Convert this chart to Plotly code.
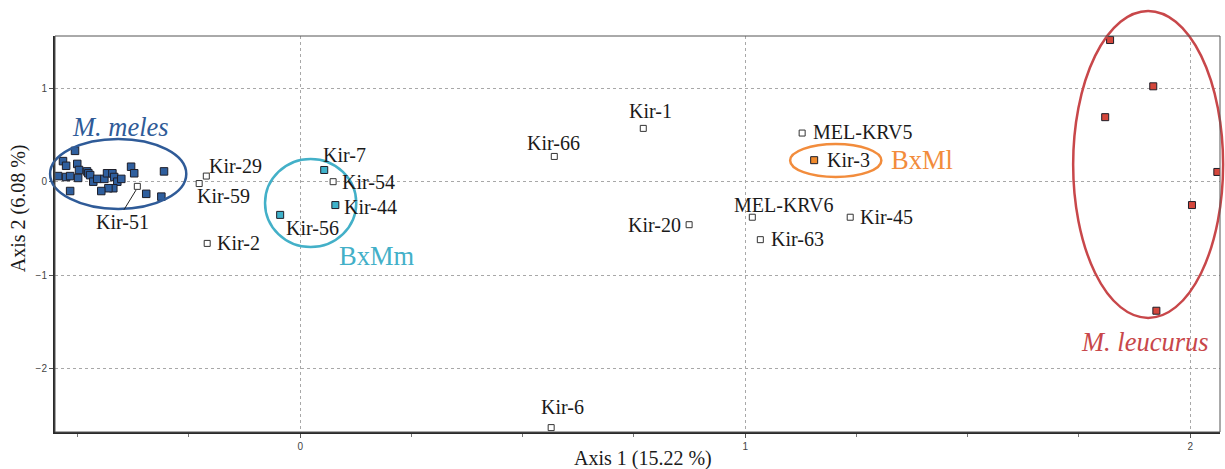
import plotly.graph_objects as go

# ---------------- data ----------------
X_RANGE = [-0.551, 2.067]
Y_RANGE = [-2.677, 1.558]
X_TICKS = [0, 1, 2]
Y_TICKS = [-2, -1, 0, 1]

meles_x = [-0.506, -0.533, -0.526, -0.501, -0.497, -0.544, -0.526, -0.517, -0.499,
           -0.479, -0.476, -0.472, -0.465, -0.456, -0.440, -0.434, -0.422, -0.418,
           -0.411, -0.402, -0.420, -0.431, -0.447, -0.517, -0.380, -0.373, -0.346,
           -0.312, -0.306]
meles_y = [0.33, 0.22, 0.17, 0.19, 0.125, 0.06, 0.05, 0.06, 0.04,
           0.11, 0.09, 0.07, 0.00, 0.03, 0.03, 0.09, 0.09, 0.05,
           0.00, 0.03, -0.07, -0.07, -0.10, -0.10, 0.16, 0.09, -0.13,
           -0.16, 0.11]

bxmm_names = ["Kir-7", "Kir-44", "Kir-56"]
bxmm_x = [0.054, 0.079, -0.045]
bxmm_y = [0.125, -0.25, -0.355]

bxml_names = ["Kir-3"]
bxml_x = [1.155]
bxml_y = [0.23]

leucurus_x = [1.820, 1.917, 1.809, 2.061, 2.004, 1.924]
leucurus_y = [1.515, 1.02, 0.69, 0.104, -0.25, -1.38]

open_names = ["Kir-51", "Kir-29", "Kir-59", "Kir-2", "Kir-54", "Kir-1", "Kir-66",
              "MEL-KRV5", "Kir-20", "MEL-KRV6", "Kir-45", "Kir-63", "Kir-6"]
open_x = [-0.366, -0.211, -0.227, -0.209, 0.074, 0.771, 0.571,
          1.128, 0.874, 1.016, 1.236, 1.034, 0.564]
open_y = [-0.05, 0.06, -0.02, -0.66, 0.00, 0.57, 0.27,
          0.52, -0.46, -0.38, -0.38, -0.62, -2.63]

# group ellipses: (x0, x1, y0, y1) in data units
ellipses = {
    "meles": (-0.562, -0.256, -0.292, 0.457),
    "bxmm": (-0.079, 0.126, -0.698, 0.243),
    "bxml": (1.101, 1.306, 0.050, 0.403),
    "leucurus": (1.737, 2.074, -1.457, 1.826),
}
group_labels = [
    ("<i>M. meles</i>", -0.404, 0.585, "meles"),
    ("BxMm", 0.171, -0.795, "bxmm"),
    ("BxMl", 1.398, 0.232, "bxml"),
    ("<i>M. leucurus</i>", 1.899, -1.714, "leucurus"),
]

# ---------------- styles ----------------
COL = {
    "meles": "#2f5b98",
    "bxmm": "#43b0c8",
    "bxml": "#f28c3c",
    "leucurus": "#c8474a",
}
FILL = {
    "meles": "#2f5f9e",
    "bxmm": "#3fb2cb",
    "bxml": "#f08a2c",
    "leucurus": "#d4473c",
}
EDGE = "#1e1e28"
SERIF = "Liberation Serif, Times New Roman, serif"

# label placement: name -> (xanchor, xshift px, yshift px)
label_place = {
    "Kir-51": ("center", -15, -36),
    "Kir-29": ("left", 1, 10),
    "Kir-59": ("left", -4, -12),
    "Kir-2": ("left", 8, 0),
    "Kir-54": ("left", 7, 0),
    "Kir-1": ("center", 7, 17),
    "Kir-66": ("center", -1, 13),
    "MEL-KRV5": ("left", 9, 1),
    "Kir-20": ("right", -6, 0),
    "MEL-KRV6": ("left", -20, 12),
    "Kir-45": ("left", 8, 0),
    "Kir-63": ("left", 9, 1),
    "Kir-6": ("center", 11, 21),
    "Kir-7": ("left", -3, 15),
    "Kir-44": ("left", 7, -2),
    "Kir-56": ("left", 4, -13),
    "Kir-3": ("left", 11, 0),
}


def px(x):
    return (x - X_RANGE[0]) / (X_RANGE[1] - X_RANGE[0])


def py(y):
    return (y - Y_RANGE[0]) / (Y_RANGE[1] - Y_RANGE[0])


fig = go.Figure()

fig.add_trace(go.Scatter(
    x=meles_x, y=meles_y, mode="markers",
    marker=dict(symbol="square", size=7.5, color=FILL["meles"], line=dict(color=EDGE, width=1)),
    hoverinfo="skip"))
fig.add_trace(go.Scatter(
    x=bxmm_x, y=bxmm_y, mode="markers",
    marker=dict(symbol="square", size=7, color=FILL["bxmm"], line=dict(color=EDGE, width=1)),
    hoverinfo="skip"))
fig.add_trace(go.Scatter(
    x=bxml_x, y=bxml_y, mode="markers",
    marker=dict(symbol="square", size=7, color=FILL["bxml"], line=dict(color=EDGE, width=1)),
    hoverinfo="skip"))
fig.add_trace(go.Scatter(
    x=leucurus_x, y=leucurus_y, mode="markers",
    marker=dict(symbol="square", size=7, color=FILL["leucurus"], line=dict(color=EDGE, width=1)),
    hoverinfo="skip"))
fig.add_trace(go.Scatter(
    x=open_x, y=open_y, mode="markers",
    marker=dict(symbol="square", size=6, color="white", line=dict(color="#333333", width=1)),
    hoverinfo="skip"))

annotations = []
all_pts = list(zip(open_names, open_x, open_y)) + list(zip(bxmm_names, bxmm_x, bxmm_y)) \
    + list(zip(bxml_names, bxml_x, bxml_y))
for name, x, y in all_pts:
    xa, xs, ys = label_place[name]
    annotations.append(dict(
        x=x, y=y, xref="x", yref="y", text=name, showarrow=False,
        xanchor=xa, yanchor="middle", xshift=xs, yshift=ys,
        font=dict(family=SERIF, size=20, color="#1a1a1a")))

for text, x, y, key in group_labels:
    annotations.append(dict(
        x=x, y=y, xref="x", yref="y", text=text, showarrow=False,
        xanchor="center", yanchor="middle",
        font=dict(family=SERIF, size=26.5, color=COL[key])))

# axis titles
annotations.append(dict(
    x=0.505, y=0, xref="paper", yref="paper", yshift=-26, text="Axis 1 (15.22 %)",
    showarrow=False, xanchor="center", yanchor="middle",
    font=dict(family=SERIF, size=20, color="#1a1a1a")))
annotations.append(dict(
    x=0, y=0.565, xref="paper", yref="paper", xshift=-37, text="Axis 2 (6.08 %)",
    showarrow=False, textangle=-90, xanchor="center", yanchor="middle",
    font=dict(family=SERIF, size=20, color="#1a1a1a")))

shapes = []
for key, (x0, x1, y0, y1) in ellipses.items():
    shapes.append(dict(
        type="circle", xref="paper", yref="paper",
        x0=px(x0), x1=px(x1), y0=py(y0), y1=py(y1),
        line=dict(color=COL[key], width=2.5), layer="above"))

# leader line for Kir-51
shapes.append(dict(type="line", xref="x", yref="y",
                   x0=open_x[0] - 0.003, y0=open_y[0] - 0.04, x1=-0.396, y1=-0.30,
                   line=dict(color="#222222", width=1)))
# thin frame top/right
shapes.append(dict(type="rect", xref="paper", yref="paper", x0=0, x1=1, y0=0, y1=1,
                   line=dict(color="#555555", width=1), layer="above"))

axis_common = dict(
    showgrid=True, gridcolor="#a8a8a8", griddash="dot", gridwidth=1,
    zeroline=False, showline=True, linecolor="#2a2a2a", linewidth=2,
    ticks="outside", ticklen=4, tickcolor="#555555",
    tickfont=dict(family="Liberation Sans, Arial, sans-serif", size=10, color="#444444"),
)

fig.update_layout(
    width=1225, height=469,
    margin=dict(l=55, r=5, t=36, b=37),
    paper_bgcolor="white", plot_bgcolor="white",
    showlegend=False,
    xaxis=dict(range=X_RANGE, tickvals=X_TICKS,
               minor=dict(dtick=0.25, tick0=0, ticks="outside", ticklen=3,
                          tickcolor="#777777", showgrid=False),
               **axis_common),
    yaxis=dict(range=Y_RANGE, tickvals=Y_TICKS, **axis_common),
    annotations=annotations,
    shapes=shapes,
)

fig.write_html("out.html", config={"displayModeBar": False},
               post_script="document.body.style.margin='0';")
